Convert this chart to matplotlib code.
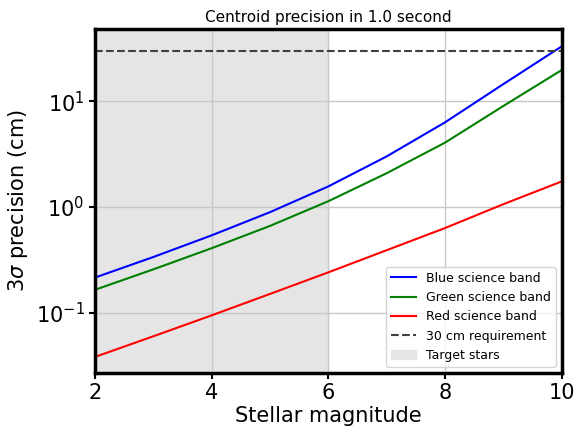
import matplotlib
matplotlib.use("Agg")
import matplotlib.pyplot as plt
from matplotlib.ticker import NullLocator

# stellar magnitude grid and 3-sigma centroid precision (cm) per band
magnitude = [2, 3, 4, 5, 6, 7, 8, 9, 10]
blue_band = [0.214, 0.335, 0.537, 0.89, 1.56, 3.0, 6.3, 14.5, 33.0]
green_band = [0.164, 0.256, 0.406, 0.66, 1.13, 2.08, 4.05, 9.0, 19.7]
red_band = [0.038, 0.0596, 0.094, 0.150, 0.240, 0.389, 0.63, 1.06, 1.74]
requirement_cm = 30
target_range = (2, 6)

fig = plt.figure(figsize=(5.75, 4.28), dpi=100)
ax = fig.add_axes([0.165, 0.1285, 0.812, 0.8035])

ax.axvspan(*target_range, color="#e5e5e5", zorder=0, label="Target stars")
ax.plot(magnitude, blue_band, color="blue", lw=1.5, label="Blue science band")
ax.plot(magnitude, green_band, color="green", lw=1.5, label="Green science band")
ax.plot(magnitude, red_band, color="red", lw=1.5, label="Red science band")
ax.axhline(requirement_cm, color="0.25", ls="--", lw=1.5, label="30 cm requirement")

ax.set_yscale("log")
ax.yaxis.set_minor_locator(NullLocator())
ax.set_xlim(2, 10)
ax.set_ylim(0.0268, 48)
ax.set_xticks([2, 4, 6, 8, 10])
ax.grid(True, color="#c8c8c8", lw=1.0, zorder=0.5)
ax.set_axisbelow(True)

for s in ax.spines.values():
    s.set_linewidth(2.5)
    s.set_color("black")

ax.tick_params(labelsize=15, width=1.5, length=4)
ax.set_xlabel("Stellar magnitude", fontsize=15, labelpad=2)
ax.set_ylabel(r"3$\sigma$ precision (cm)", fontsize=15)
ax.set_title("Centroid precision in 1.0 second", fontsize=11, pad=5)

handles, labels = ax.get_legend_handles_labels()
order = [1, 2, 3, 4, 0]
ax.legend([handles[i] for i in order], [labels[i] for i in order],
          loc="lower right", fontsize=9, framealpha=0.8)

fig.savefig("out.png", dpi=100)
